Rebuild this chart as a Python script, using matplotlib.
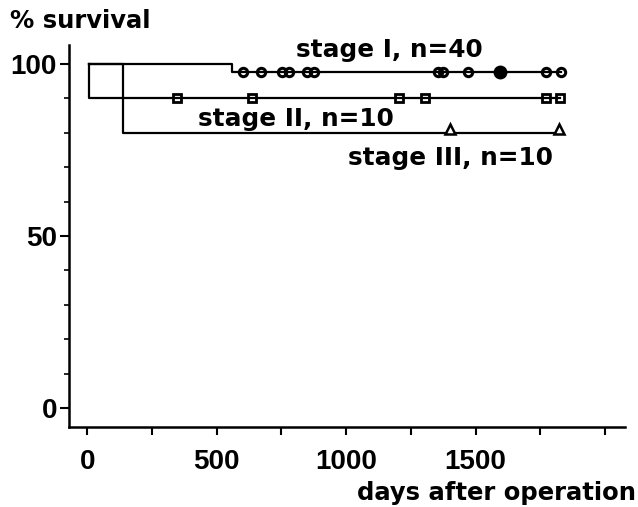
import matplotlib
matplotlib.use("Agg")
import matplotlib.pyplot as plt
import matplotlib.transforms as mtrans
from matplotlib.ticker import FixedLocator

# Kaplan-Meier step data (days, % survival)
stage1_t = [7, 558, 1829]
stage1_s = [100, 97.5, 97.5]
stage2_t = [7, 7, 1827]
stage2_s = [100, 90, 90]
stage3_t = [7, 137, 1822]
stage3_s = [100, 80, 80]

# censored patients (days)
stage1_cens = [603, 671, 751, 780, 850, 876, 1353, 1373, 1472, 1771, 1829]
stage1_cluster = [1595]
stage2_cens = [348, 638, 1205, 1305, 1773, 1827]
stage3_cens = [1401, 1822]

labels = ["stage I, n=40", "stage II, n=10", "stage III, n=10"]
label_pos = [(806, 101.9), (428, 82.0), (1007, 70.6)]

xticks_major = [0, 500, 1000, 1500]
xticks_minor = [250, 750, 1250, 1750, 2000]
yticks_major = [0, 50, 100]
yticks_minor = [10, 20, 30, 40, 60, 70, 80, 90]

fig = plt.figure(figsize=(6.38, 5.07), dpi=100)
ax = fig.add_axes([0.108, 0.158, 0.872, 0.753])

lw = 1.6
ax.step(stage1_t, stage1_s, where="post", color="black", lw=lw)
ax.step(stage2_t, stage2_s, where="post", color="black", lw=lw)
ax.step(stage3_t, stage3_s, where="post", color="black", lw=lw)

ax.plot(stage1_cens, [stage1_s[-1]] * len(stage1_cens), "o", ms=6,
        mfc="none", mec="black", mew=2.2)
ax.plot(stage1_cluster, [stage1_s[-1]] * len(stage1_cluster), "o", ms=9,
        mfc="black", mec="black")
ax.plot(stage2_cens, [stage2_s[-1]] * len(stage2_cens), "s", ms=5.5,
        mfc="none", mec="black", mew=2.0)
tri = mtrans.offset_copy(ax.transData, fig=fig, y=3.5, units="dots")
ax.plot(stage3_cens, [stage3_s[-1]] * len(stage3_cens), "^", ms=7,
        mfc="white", mec="black", mew=1.8, transform=tri)

for txt, (x, y) in zip(labels, label_pos):
    ax.text(x, y, txt, fontsize=17.8, fontweight="bold", family="DejaVu Sans",
            ha="left", va="baseline")

ax.set_xlim(-71, 2078)
ax.set_ylim(-5.4, 105.4)

ax.spines["top"].set_visible(False)
ax.spines["right"].set_visible(False)
ax.spines["left"].set_linewidth(1.8)
ax.spines["bottom"].set_linewidth(1.8)

ax.xaxis.set_major_locator(FixedLocator(xticks_major))
ax.xaxis.set_minor_locator(FixedLocator(xticks_minor))
ax.yaxis.set_major_locator(FixedLocator(yticks_major))
ax.yaxis.set_minor_locator(FixedLocator(yticks_minor))
ax.tick_params(axis="x", which="both", direction="out", length=5.8, width=1.5,
               pad=10)
ax.tick_params(axis="y", which="major", direction="out", length=6.5, width=1.5,
               pad=2)
ax.tick_params(axis="y", which="minor", direction="out", length=3.6, width=1.2)
for lab in ax.get_xticklabels() + ax.get_yticklabels():
    lab.set_fontfamily("Liberation Sans")
    lab.set_fontweight("bold")
    lab.set_fontsize(20)

fig.text(10 / 638, 1 - 28 / 507, "% survival", fontsize=17.5,
         fontweight="bold", family="DejaVu Sans", ha="left", va="baseline")
fig.text(636 / 638, 1 - 500 / 507, "days after operation", fontsize=17.5,
         fontweight="bold", family="DejaVu Sans", ha="right", va="baseline")

fig.savefig("out.png", dpi=100)
